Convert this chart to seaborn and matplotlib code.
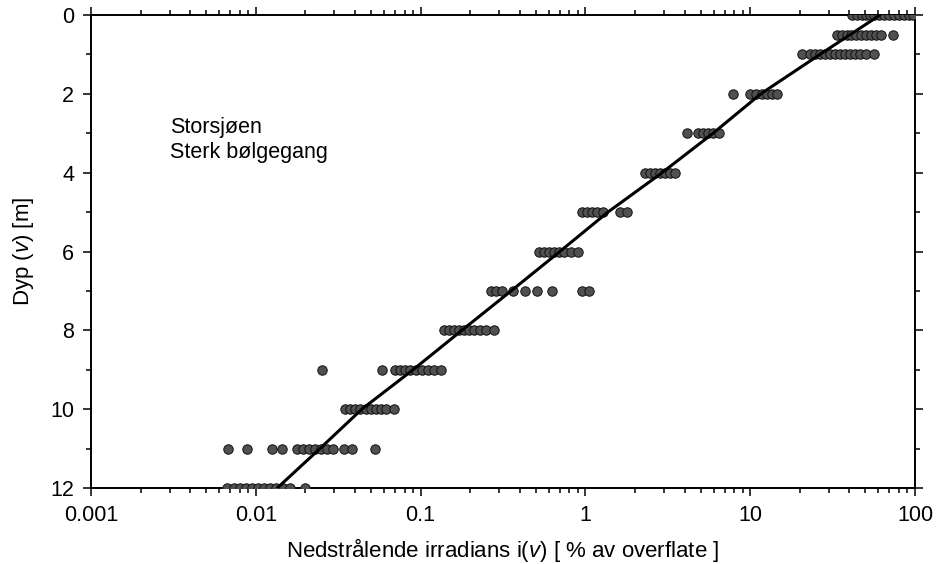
import numpy as np
import pandas as pd
import matplotlib
matplotlib.use("Agg")
import matplotlib.pyplot as plt
from matplotlib.ticker import LogLocator, FixedLocator, NullFormatter
import seaborn as sns

# ---- data ----
depth_levels = [0, 0.5, 1, 2, 3, 4, 5, 6, 7, 8, 9, 10, 11, 12]
irr_d0 = [41.5, 44.5, 47.7, 50.4, 53.3, 56.4, 60.5, 64.8, 69.5, 74.6, 80.0, 85.7, 92.0, 97.2]
irr_d05 = [33.6, 36.1, 38.7, 40.9, 43.8, 47.0, 50.4, 54.0, 58.0, 62.2, 73.6]
irr_d1 = [20.6, 23.1, 24.7, 26.5, 28.4, 30.5, 32.7, 35.1, 37.6, 40.3, 43.3, 46.4, 50.4, 56.4]
irr_d2 = [7.87, 9.97, 10.8, 11.8, 12.6, 13.6, 14.5]
irr_d3 = [4.14, 4.82, 5.17, 5.55, 5.95, 6.47]
irr_d4 = [2.30, 2.47, 2.64, 2.84, 3.04, 3.26, 3.50]
irr_d5 = [0.953, 1.02, 1.10, 1.18, 1.28, 1.62, 1.79]
irr_d6 = [0.523, 0.561, 0.601, 0.645, 0.691, 0.742, 0.818, 0.902]
irr_d7 = [0.267, 0.287, 0.312, 0.364, 0.430, 0.508, 0.627, 0.953, 1.05]
irr_d8 = [0.139, 0.149, 0.160, 0.171, 0.183, 0.197, 0.211, 0.229, 0.249, 0.279]
irr_d9 = [0.0252, 0.0583, 0.0700, 0.0750, 0.0804, 0.0862, 0.0938, 0.102, 0.111, 0.121, 0.133]
irr_d10 = [0.0348, 0.0373, 0.0400, 0.0429, 0.0466, 0.0500, 0.0536, 0.0575, 0.0617, 0.0690]
irr_d11 = [0.00678, 0.00885, 0.0125, 0.0144, 0.0178, 0.0193, 0.0210, 0.0229, 0.0249,
           0.0270, 0.0294, 0.0343, 0.0384, 0.0529]
irr_d12 = [0.00669, 0.00738, 0.00802, 0.00873, 0.00948, 0.0103, 0.0112, 0.0122, 0.0133,
           0.0146, 0.0161, 0.0199]
irr_by_depth = [irr_d0, irr_d05, irr_d1, irr_d2, irr_d3, irr_d4, irr_d5, irr_d6,
                irr_d7, irr_d8, irr_d9, irr_d10, irr_d11, irr_d12]

fit_depth = [0, 1, 2, 3, 4, 5, 6, 7, 8, 9, 10, 11, 12]
fit_irr = [61.4, 26.5, 11.6, 5.95, 2.92, 1.37, 0.70, 0.354, 0.178, 0.090, 0.044, 0.0245, 0.0135]

x_ticks = [0.001, 0.01, 0.1, 1, 10, 100]
x_ticklabels = ["0.001", "0.01", "0.1", "1", "10", "100"]
y_ticks = [0, 2, 4, 6, 8, 10, 12]
label_x = "Nedstrålende irradians i($\\mathit{v}$) [ % av overflate ]"
label_y = "Dyp ($\\mathit{v}$) [m]"
note_lines = ["Storsjøen", "Sterk bølgegang"]

# ---- tables ----
pts = pd.DataFrame({
    "depth": np.concatenate([[d] * len(v) for d, v in zip(depth_levels, irr_by_depth)]),
    "irr": np.concatenate(irr_by_depth),
})
fit = pd.DataFrame({"depth": fit_depth, "irr": fit_irr})

sns.set_style("ticks")
plt.rcParams["font.family"] = ["Liberation Sans", "DejaVu Sans"]
plt.rcParams["mathtext.fontset"] = "custom"
plt.rcParams["mathtext.rm"] = "Liberation Sans"
plt.rcParams["mathtext.it"] = "Liberation Sans:italic"
for k in ["text.color", "axes.labelcolor", "xtick.color", "ytick.color", "axes.edgecolor"]:
    plt.rcParams[k] = "black"

fig = plt.figure(figsize=(9.4, 5.64), dpi=100)
ax = fig.add_axes([91 / 940, 1 - 488 / 564, (915 - 91) / 940, (488 - 15) / 564])

sns.scatterplot(data=pts, x="irr", y="depth", ax=ax, s=46, color="#505050",
                edgecolor="#101010", linewidth=0.7, zorder=3, legend=False)
sns.lineplot(data=fit, x="irr", y="depth", ax=ax, color="black", linewidth=2.2,
             sort=False, estimator=None, zorder=4)

ax.set_xscale("log")
ax.set_xlim(0.001, 100)
ax.set_ylim(12, 0)
ax.set_xticks(x_ticks)
ax.set_xticklabels(x_ticklabels)
ax.xaxis.set_minor_locator(LogLocator(base=10, subs=np.arange(2, 10)))
ax.xaxis.set_minor_formatter(NullFormatter())
ax.set_yticks(y_ticks)
ax.yaxis.set_minor_locator(FixedLocator([1, 3, 5, 7, 9, 11]))

for s in ax.spines.values():
    s.set_visible(True)
    s.set_linewidth(1.4)
    s.set_color("black")

ax.tick_params(which="both", direction="out", top=True, right=True,
               labeltop=False, labelright=False, color="black", width=1.1)
ax.tick_params(which="major", length=6, labelsize=15.5, pad=6)
ax.tick_params(which="minor", length=3.5)

ax.set_xlabel(label_x, fontsize=16, va="center")
ax.xaxis.set_label_coords(0.5, -(550 - 488) / 473)
ax.set_ylabel(label_y, fontsize=16, labelpad=10)

ax.text(0.096, 0.763, note_lines[0], transform=ax.transAxes, fontsize=15.5, va="center")
ax.text(0.096, 0.710, note_lines[1], transform=ax.transAxes, fontsize=15.5, va="center")

fig.savefig("out.png", dpi=100)
